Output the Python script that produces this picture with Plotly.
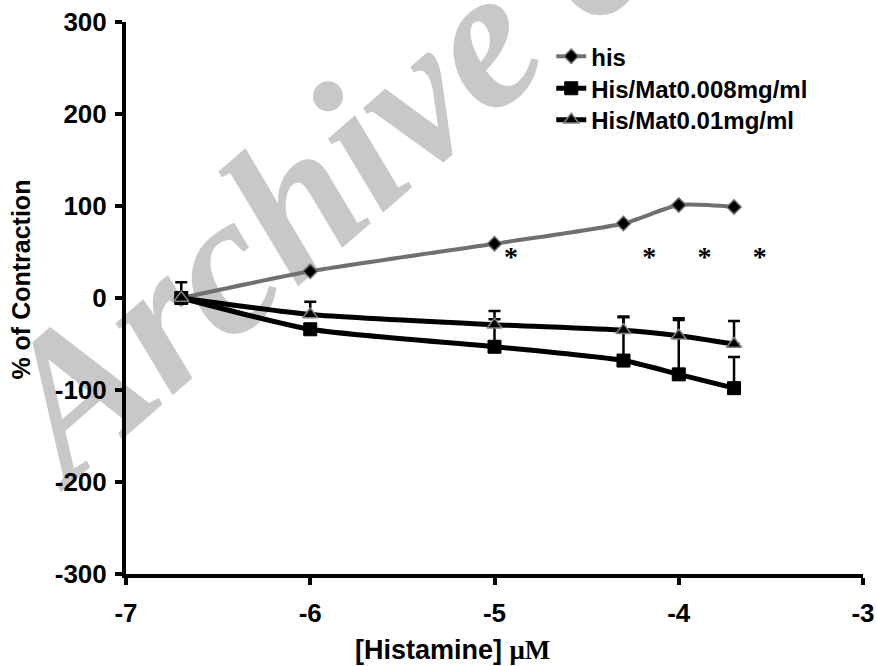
import plotly.graph_objects as go

# ---- data ----
x_conc = [-6.7, -6.0, -5.0, -4.3, -4.0, -3.7]
his_vals = [0, 29, 59, 81, 101, 99]
mat008_vals = [0, -34, -53, -68, -83, -98]
mat008_err = [0, 0, 30, 47, 59, 34]
mat001_vals = [0, -18, -29, -35, -41, -50]
mat001_err = [17, 14, 15, 15, 19, 25]
star_x = [-4.91, -4.16, -3.86, -3.56]
star_y = [42, 42, 42, 42]
star_text = ["*", "*", "*", "*"]
x_ticks = [-7, -6, -5, -4, -3]
y_ticks = [-300, -200, -100, 0, 100, 200, 300]

FONT = "Liberation Sans, Arial, sans-serif"
SERIF = "Liberation Serif, Times New Roman, serif"

fig = go.Figure()

fig.add_trace(go.Scatter(
    x=x_conc, y=his_vals, name="his", mode="lines+markers", legend="legend",
    line=dict(color="#707070", width=4, shape="spline", smoothing=0.6),
    marker=dict(symbol="diamond", size=11, color="#000000",
                line=dict(color="#707070", width=1.5)),
))
fig.add_trace(go.Scatter(
    x=x_conc, y=mat008_vals, name="His/Mat0.008mg/ml", mode="lines+markers",
    legend="legend2",
    line=dict(color="#000000", width=5, shape="spline", smoothing=0.6),
    marker=dict(symbol="square", size=13, color="#000000",
                line=dict(color="#000000", width=1)),
    error_y=dict(type="data", symmetric=False, array=mat008_err,
                 arrayminus=[0] * len(mat008_err), color="#000000",
                 thickness=2.5, width=6),
))
fig.add_trace(go.Scatter(
    x=x_conc, y=mat001_vals, name="His/Mat0.01mg/ml", mode="lines+markers",
    legend="legend3",
    line=dict(color="#000000", width=5, shape="spline", smoothing=0.6),
    marker=dict(symbol="triangle-up", size=13, color="#000000",
                line=dict(color="#808080", width=1.5)),
    error_y=dict(type="data", symmetric=False, array=mat001_err,
                 arrayminus=[0] * len(mat001_err), color="#000000",
                 thickness=2.5, width=6),
))
fig.add_trace(go.Scatter(
    x=star_x, y=star_y, text=star_text, mode="text", showlegend=False,
    textfont=dict(family=SERIF, size=28, color="#000000", weight="bold"),
    textposition="middle center", hoverinfo="skip",
))

# watermark (below data)
fig.add_shape(
    type="rect", xref="paper", yref="paper",
    x0=0.48, x1=0.48, y0=1.022, y1=1.022,
    line=dict(width=0), fillcolor="rgba(0,0,0,0)", layer="below",
    label=dict(text="Archive of SID", textangle=-41,
               textposition="middle center",
               font=dict(family=SERIF, size=200, color="#c8c8c8",
                         weight="bold", style="italic")),
)

# axis titles as annotations (off-centre like the reference)
fig.add_annotation(
    xref="paper", yref="paper", x=0.443, y=-0.138,
    xanchor="center", yanchor="middle", showarrow=False,
    text='[Histamine] <span style="font-family:Liberation Serif, Times New Roman, serif">μM</span>',
    font=dict(family=FONT, size=27, weight="bold", color="#000000"),
)
fig.add_annotation(
    xref="paper", yref="paper", x=-0.142, y=0.534,
    xanchor="center", yanchor="middle", showarrow=False, textangle=-90,
    text="% of Contraction",
    font=dict(family=FONT, size=25, weight="bold", color="#000000"),
)

leg_common = dict(xanchor="left", yanchor="top", bgcolor="rgba(0,0,0,0)",
                  font=dict(family=FONT, size=24, weight="bold", color="#000000"),
                  x=0.577)

fig.update_layout(
    width=877, height=666,
    margin=dict(l=126, r=14, t=22, b=92),
    paper_bgcolor="white", plot_bgcolor="white",
    font=dict(family=FONT, color="#000000"),
    showlegend=True,
    legend=dict(y=0.978, **leg_common),
    legend2=dict(y=0.920, **leg_common),
    legend3=dict(y=0.863, **leg_common),
    xaxis=dict(range=[-7, -3], tickvals=x_ticks, ticktext=[str(v) for v in x_ticks],
               showgrid=False, zeroline=False, showline=True, automargin=False,
               linecolor="#000000", linewidth=4,
               ticks="outside", ticklen=7, tickwidth=4, tickcolor="#000000",
               tickfont=dict(family=FONT, size=26, weight="bold"),
               ticklabelstandoff=6),
    yaxis=dict(range=[-300, 300], tickvals=y_ticks, ticktext=[str(v) for v in y_ticks],
               showgrid=False, zeroline=False, showline=True, automargin=False,
               linecolor="#000000", linewidth=4,
               ticks="outside", ticklen=7, tickwidth=4, tickcolor="#000000",
               tickfont=dict(family=FONT, size=26, weight="bold"),
               ticklabelstandoff=3),
)

fig.write_html("out.html")
